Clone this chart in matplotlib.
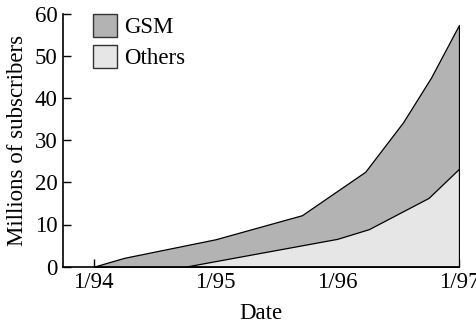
import matplotlib
matplotlib.use("Agg")
import matplotlib.pyplot as plt

# Data (decimal years, millions of subscribers)
total_dates = [1994.0, 1994.25, 1995.0, 1995.71, 1996.23, 1996.54, 1996.77, 1997.0]
total_values = [0.0, 2.1, 6.5, 12.2, 22.5, 34.2, 44.8, 57.3]   # GSM + Others (top of stack)
others_dates = [1994.75, 1996.0, 1996.26, 1996.75, 1997.0]
others_values = [0.0, 6.6, 8.9, 16.3, 23.2]

series_labels = ["GSM", "Others"]
xtick_pos = [1994, 1995, 1996, 1997]
xtick_labels = ["1/94", "1/95", "1/96", "1/97"]
minor_pos = [1994.25, 1994.5, 1994.75, 1995.25, 1995.5, 1995.75, 1996.25, 1996.5, 1996.75]
ytick_pos = [0, 10, 20, 30, 40, 50, 60]

plt.rcParams['font.family'] = ['Liberation Serif', 'DejaVu Serif']
FS = 16.5

fig = plt.figure(figsize=(4.76, 3.26), dpi=100)
ax = fig.add_axes([63.3 / 476, 1 - 266.7 / 326, (459 - 63.3) / 476, (266.7 - 13.5) / 326])

gsm_color = "#b3b3b3"
oth_color = "#e6e6e6"

ax.fill_between(total_dates, 0, total_values, facecolor=gsm_color, edgecolor="black",
                linewidth=0.9, label=series_labels[0], zorder=2)
ax.fill_between(others_dates, 0, others_values, facecolor=oth_color, edgecolor="black",
                linewidth=0.9, label=series_labels[1], zorder=3)

ax.set_xlim(1993.75, 1997.0)
ax.set_ylim(0, 60)
for s in ["top", "right"]:
    ax.spines[s].set_visible(False)
for s in ["left", "bottom"]:
    ax.spines[s].set_linewidth(1.2)
    ax.spines[s].set_zorder(5)

ax.set_xticks(xtick_pos)
ax.set_xticklabels(xtick_labels, fontsize=FS)
ax.set_xticks(minor_pos, minor=True)
ax.set_yticks(ytick_pos)
ax.set_yticklabels([str(v) for v in ytick_pos], fontsize=FS)
ax.tick_params(axis="x", which="both", direction="in", length=5.5, width=1.0, pad=4)
ax.tick_params(axis="y", direction="in", length=5.5, width=1.0, pad=4)

ax.set_xlabel("Date", fontsize=FS, labelpad=7)
ax.set_ylabel("Millions of subscribers", fontsize=FS, labelpad=5)

leg = ax.legend(loc="upper left", bbox_to_anchor=(0.075, 1.0), frameon=False,
                fontsize=FS, handlelength=1.05, handleheight=1.2, handletextpad=0.3,
                labelspacing=0.3, borderpad=0, borderaxespad=0)
for p in leg.get_patches():
    p.set_edgecolor("#333333")
    p.set_linewidth(1.0)

fig.savefig("out.png", dpi=100)
